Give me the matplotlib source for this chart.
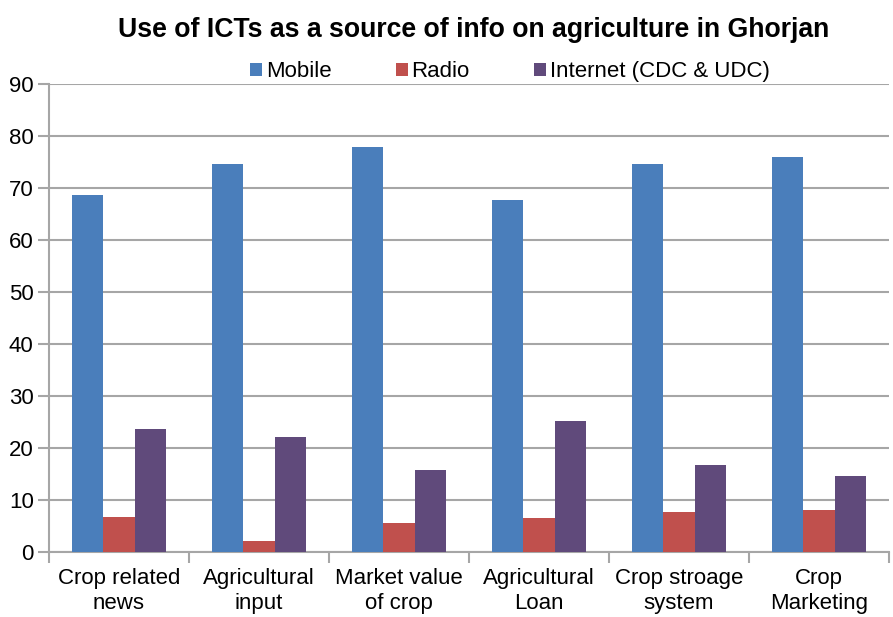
import matplotlib.pyplot as plt
import numpy as np

plt.rcParams['font.family'] = ['Liberation Sans', 'DejaVu Sans']

categories = ["Crop related\nnews", "Agricultural\ninput", "Market value\nof crop",
              "Agricultural\nLoan", "Crop stroage\nsystem", "Crop\nMarketing"]
mobile = [68.8, 74.7, 77.9, 67.8, 74.7, 76.1]
radio = [6.8, 2.2, 5.7, 6.5, 7.8, 8.2]
internet = [23.8, 22.1, 15.8, 25.2, 16.8, 14.7]

series = [("Mobile", mobile, "#4a7ebb"),
          ("Radio", radio, "#c0504d"),
          ("Internet (CDC & UDC)", internet, "#604a7b")]

fig = plt.figure(figsize=(8.93, 6.17), dpi=100)
ax = fig.add_axes([0.0549, 0.1049, 0.9406, 0.7583])

x = np.arange(len(categories))
w = 0.222
for i, (name, vals, col) in enumerate(series):
    ax.bar(x + (i - 1) * w, vals, w, color=col, label=name, zorder=3)

ax.set_xlim(-0.5, len(categories) - 0.5)
ax.set_ylim(0, 90)
ax.set_yticks(range(0, 91, 10))
ax.yaxis.grid(True, color="#a6a6a6", linewidth=1.5, zorder=0)

ax.set_xticks(x)
ax.set_xticklabels(categories, fontsize=16, linespacing=1.3)
ax.set_xticks(np.arange(-0.5, len(categories)), minor=True)
ax.tick_params(axis="x", which="major", length=0, pad=11)
ax.tick_params(axis="x", which="minor", length=8, color="#a6a6a6", width=1.5)
ax.tick_params(axis="y", length=8, color="#a6a6a6", width=1.5, labelsize=16, pad=3)

for s in ["top", "right"]:
    ax.spines[s].set_visible(False)
for s in ["left", "bottom"]:
    ax.spines[s].set_color("#a6a6a6")
    ax.spines[s].set_linewidth(1.5)

fig.text(0.53, 0.951, "Use of ICTs as a source of info on agriculture in Ghorjan",
         ha="center", va="center", fontsize=19.2, fontweight="bold")

fig.legend(loc="center", bbox_to_anchor=(0.571, 0.884), ncol=3, frameon=False,
           fontsize=16, handlelength=0.55, handleheight=0.55, handletextpad=0.15,
           columnspacing=2.9, borderaxespad=0)

fig.savefig("out.png", dpi=100)
